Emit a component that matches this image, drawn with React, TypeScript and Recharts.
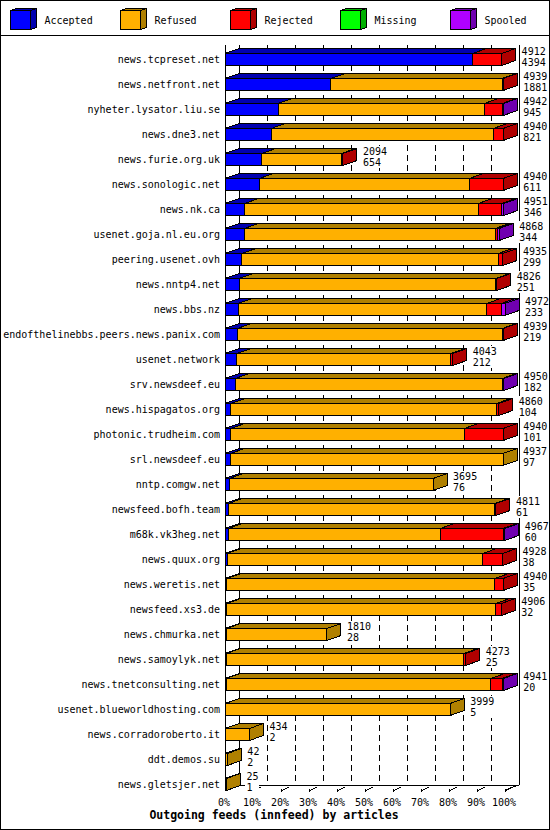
import { BarChart, Bar, XAxis, YAxis, CartesianGrid } from 'recharts'

const hosts = [
  'news.tcpreset.net', 'news.netfront.net', 'nyheter.lysator.liu.se', 'news.dne3.net',
  'news.furie.org.uk', 'news.sonologic.net', 'news.nk.ca', 'usenet.goja.nl.eu.org',
  'peering.usenet.ovh', 'news.nntp4.net', 'news.bbs.nz', 'endofthelinebbs.peers.news.panix.com',
  'usenet.network', 'srv.newsdeef.eu', 'news.hispagatos.org', 'photonic.trudheim.com',
  'srl.newsdeef.eu', 'nntp.comgw.net', 'newsfeed.bofh.team', 'm68k.vk3heg.net',
  'news.quux.org', 'news.weretis.net', 'newsfeed.xs3.de', 'news.chmurka.net',
  'news.samoylyk.net', 'news.tnetconsulting.net', 'usenet.blueworldhosting.com',
  'news.corradoroberto.it', 'ddt.demos.su', 'news.gletsjer.net',
]
const accepted = [4394, 1881, 945, 821, 654, 611, 346, 344, 299, 251, 233, 219, 212, 182, 104,
  101, 97, 76, 61, 60, 38, 35, 32, 28, 25, 20, 5, 2, 2, 1]
const refused = [0, 3038, 3660, 3944, 1415, 3727, 4152, 4456, 4554, 4555, 4413, 4705, 3801, 4743, 4716,
  4149, 4840, 3619, 4728, 3764, 4537, 4754, 4774, 1782, 4213, 4698, 3994, 432, 40, 24]
const rejected = [518, 20, 320, 175, 25, 602, 415, 36, 82, 20, 261, 15, 30, 0, 40,
  690, 0, 0, 22, 1113, 353, 151, 100, 0, 35, 201, 0, 0, 0, 0]
const missing = [0, 0, 0, 0, 0, 0, 0, 0, 0, 0, 0, 0, 0, 0, 0,
  0, 0, 0, 0, 0, 0, 0, 0, 0, 0, 0, 0, 0, 0, 0]
const spooled = [0, 0, 17, 0, 0, 0, 38, 32, 0, 0, 65, 0, 0, 25, 0,
  0, 0, 0, 0, 30, 0, 0, 0, 0, 0, 22, 0, 0, 0, 0]
const tickPercents = [0, 10, 20, 30, 40, 50, 60, 70, 80, 90, 100]

const SERIES = [
  { key: 'accepted', name: 'Accepted', front: '#0000ff', dark: '#0000b0' },
  { key: 'refused', name: 'Refused', front: '#ffb000', dark: '#b08000' },
  { key: 'rejected', name: 'Rejected', front: '#ff0000', dark: '#b00000' },
  { key: 'missing', name: 'Missing', front: '#00ff00', dark: '#00b000' },
  { key: 'spooled', name: 'Spooled', front: '#b000ff', dark: '#7000b0' },
]

const FONT = '"DejaVu Sans Mono", monospace'
const DX = 14 // depth of the fake 3d, sideways
const DY = 5 // and upwards

const data = hosts.map((host, i) => ({
  host,
  accepted: accepted[i],
  refused: refused[i],
  rejected: rejected[i],
  missing: missing[i],
  spooled: spooled[i],
}))
const totals = data.map(d => d.accepted + d.refused + d.rejected + d.missing + d.spooled)
const maxTotal = Math.max(...totals)
const ticks = tickPercents.map(p => (maxTotal * p) / 100)

function segmentShape(idx: number) {
  const s = SERIES[idx]
  return (props: any) => {
    const { x, y, width, height, payload } = props
    if (!(width > 0)) return <g />
    const last = SERIES.slice(idx + 1).every(n => !payload[n.key])
    const total = SERIES.reduce((a, n) => a + payload[n.key], 0)
    const top = `${x},${y} ${x + DX},${y - DY} ${x + width + DX},${y - DY} ${x + width},${y}`
    const side = `${x + width},${y} ${x + width + DX},${y - DY} ${x + width + DX},${y + height - DY} ${x + width},${y + height}`
    const lx = x + width + 20
    const chars = Math.max(String(total).length, String(payload.accepted).length)
    return (
      <g shapeRendering="crispEdges">
        <polygon points={top} fill={s.dark} stroke="#000" strokeWidth={1} />
        <rect x={x} y={y} width={width} height={height} fill={s.front} stroke="#000" strokeWidth={1} />
        {last && <polygon points={side} fill={s.dark} stroke="#000" strokeWidth={1} />}
        {last && <rect x={lx - 1} y={y - 8} width={chars * 6.02 + 2} height={22} fill="#fff" />}
        {last && (
          <text x={lx} y={y + 1} fontFamily={FONT} fontSize={10} fill="#000">{total}</text>
        )}
        {last && (
          <text x={lx} y={y + 12} fontFamily={FONT} fontSize={10} fill="#000">{payload.accepted}</text>
        )}
      </g>
    )
  }
}

// back wall, floor and dashed grid, all hung off the x axis ticks
function gridLine(props: any) {
  const { x1, x, y, width, height } = props
  const top = y - 1.5
  const floorFront = y + height - 6.5
  const floorBack = floorFront - DY
  const mark = (
    <g>
      <line x1={x1} y1={floorFront - 1} x2={x1} y2={floorFront + 2} stroke="#000" />
      <line x1={x1} y1={floorFront + 1} x2={x1 + 8} y2={floorFront - 3} stroke="#000" />
    </g>
  )
  if (Math.abs(x1 - x) < 0.5) {
    return (
      <g shapeRendering="crispEdges">
        <line x1={x1} y1={top} x2={x1} y2={floorFront} stroke="#000" />
        <line x1={x1 + DX} y1={top} x2={x1 + DX} y2={floorBack} stroke="#000" />
        <line x1={x1} y1={floorFront} x2={x1 + DX} y2={floorBack} stroke="#000" />
        <line x1={x1 + DX} y1={floorBack} x2={x + width + DX} y2={floorBack} stroke="#000" />
      </g>
    )
  }
  if (Math.abs(x1 - (x + width)) < 0.5) {
    return (
      <g shapeRendering="crispEdges">
        <line x1={x1 + DX} y1={top} x2={x1 + DX} y2={floorBack} stroke="#000" />
        <line x1={x1} y1={floorFront} x2={x1 + DX} y2={floorBack} stroke="#000" />
        {mark}
      </g>
    )
  }
  return (
    <g shapeRendering="crispEdges">
      <line x1={x1 + DX} y1={top} x2={x1 + DX} y2={floorBack} stroke="#000" strokeDasharray="6 4" />
      {mark}
    </g>
  )
}

function PercentTick(props: any) {
  const { x, y, payload } = props
  const pct = Math.round((payload.value / maxTotal) * 100)
  return (
    <text x={x - 1} y={y + 9.5} textAnchor="middle" fontFamily={FONT} fontSize={10} fill="#000">
      {pct}%
    </text>
  )
}

function Legend3d() {
  return (
    <g>
      {SERIES.map((s, i) => {
        const x0 = 10.5 + i * 110
        return (
          <g key={s.key} shapeRendering="crispEdges">
            <polygon points={`${x0},10.5 ${x0 + 6},8.5 ${x0 + 26},8.5 ${x0 + 20},10.5`} fill={s.dark} stroke="#000" />
            <polygon points={`${x0 + 20},10.5 ${x0 + 26},8.5 ${x0 + 26},27.5 ${x0 + 20},29.5`} fill={s.dark} stroke="#000" />
            <rect x={x0} y={10.5} width={20} height={19} fill={s.front} stroke="#000" />
            <text x={x0 + 34} y={24} fontFamily={FONT} fontSize={10} fill="#000">{s.name}</text>
          </g>
        )
      })}
    </g>
  )
}

export default function App() {
  return (
    <div style={{ position: 'absolute', left: 0, top: 0, width: 550, height: 830, background: '#fff' }}>
      <div style={{ position: 'absolute', left: 0, top: 0 }}>
        <BarChart
          width={550}
          height={830}
          data={data}
          layout="vertical"
          margin={{ top: 46.5, right: 45, bottom: 13.5, left: 0 }}
          barCategoryGap={0}
        >
          <CartesianGrid horizontal={false} vertical={gridLine} />
          <XAxis
            type="number"
            domain={[0, maxTotal]}
            ticks={ticks}
            interval={0}
            height={20}
            axisLine={false}
            tickLine={false}
            tickSize={0}
            tickMargin={0}
            tick={PercentTick}
          />
          <YAxis
            type="category"
            dataKey="host"
            width={225}
            interval={0}
            axisLine={false}
            tickLine={false}
            tickSize={0}
            tickMargin={5}
            tick={{ fontFamily: FONT, fontSize: 10, fill: '#000' }}
          />
          {SERIES.map((s, i) => (
            <Bar
              key={s.key}
              dataKey={s.key}
              name={s.name}
              stackId="a"
              barSize={12}
              fill={s.front}
              shape={segmentShape(i)}
              isAnimationActive={false}
            />
          ))}
        </BarChart>
      </div>
      <svg width={550} height={830} style={{ position: 'absolute', left: 0, top: 0, pointerEvents: 'none' }}>
        <Legend3d />
        <line x1={0} y1={35.5} x2={550} y2={35.5} stroke="#000" shapeRendering="crispEdges" />
        <rect x={0.5} y={0.5} width={549} height={829} fill="none" stroke="#000" shapeRendering="crispEdges" />
        <text x={274} y={819} textAnchor="middle" fontFamily={FONT} fontSize={11.5} fontWeight="bold" fill="#000">
          Outgoing feeds (innfeed) by articles
        </text>
      </svg>
    </div>
  )
}
